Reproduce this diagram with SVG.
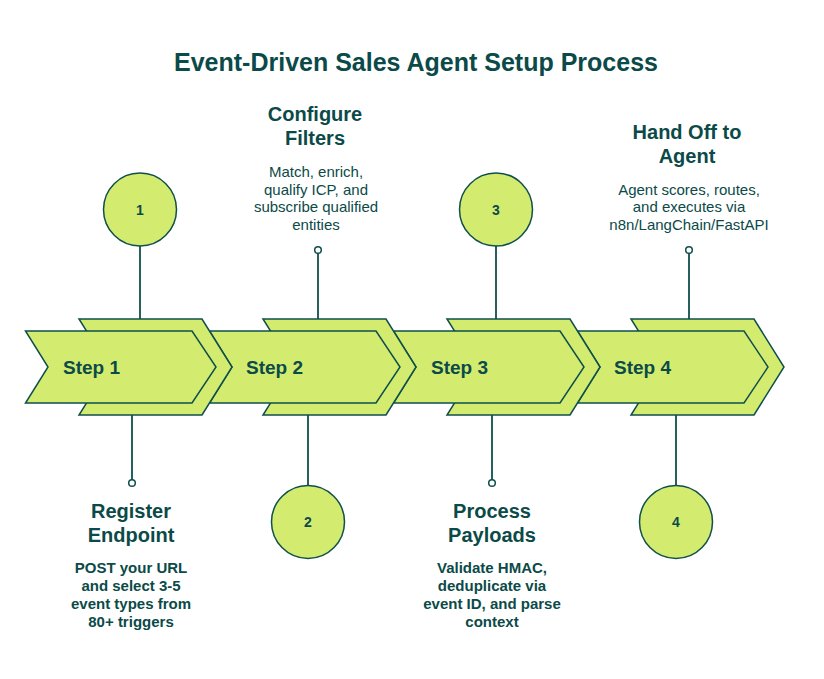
<svg xmlns="http://www.w3.org/2000/svg" width="824" height="679" viewBox="0 0 824 679">
<style>
.chev{fill:#d3ec70;stroke:#0f4f4c;stroke-width:1.5;stroke-linejoin:miter}
.num{fill:#d3ec70;stroke:#0f4f4c;stroke-width:1.5}
.ln{stroke:#0f4f4c;stroke-width:1.8;fill:none}
.dot{fill:#ffffff;stroke:#0f4f4c;stroke-width:1.5}
text{font-family:"Liberation Sans",Arial,sans-serif;fill:#0b4a48;text-anchor:middle}
.title{font-size:25px;font-weight:bold}
.step{font-size:19px;font-weight:bold;text-anchor:start}
.n{font-size:14px;font-weight:bold}
.h{font-size:20px;font-weight:bold}
.db{font-size:15px;font-weight:bold}
.d{font-size:15px}
</style>
<rect width="824" height="679" fill="#ffffff"/>
<text class="title" x="416" y="71">Event-Driven Sales Agent Setup Process</text>
<g id="connectors">
<line class="ln" x1="140" y1="246" x2="140" y2="319"/>
<line class="ln" x1="132" y1="415" x2="132" y2="480"/>
<line class="ln" x1="318" y1="253" x2="318" y2="319"/>
<line class="ln" x1="308" y1="415" x2="308" y2="485.5"/>
<line class="ln" x1="496" y1="246" x2="496" y2="319"/>
<line class="ln" x1="492" y1="415" x2="492" y2="480"/>
<line class="ln" x1="689" y1="253" x2="689" y2="319"/>
<line class="ln" x1="676" y1="415" x2="676" y2="485.5"/>
<circle class="dot" cx="132" cy="483" r="3.3"/>
<circle class="dot" cx="318" cy="250" r="3.3"/>
<circle class="dot" cx="492" cy="483" r="3.3"/>
<circle class="dot" cx="689" cy="250" r="3.3"/>
</g>
<g id="step4">
<polygon class="chev" points="631,319 754,319 784,367 754,415 631,415 661,367"/>
<polygon class="chev" points="577.5,331 744,331 768,367 744,403 577.5,403 600,367"/>
<text class="step" x="614" y="374">Step 4</text>
</g>
<g id="step3">
<polygon class="chev" points="447,319 570,319 600,367 570,415 447,415 477,367"/>
<polygon class="chev" points="393.5,331 560,331 584,367 560,403 393.5,403 416,367"/>
<text class="step" x="431" y="374">Step 3</text>
</g>
<g id="step2">
<polygon class="chev" points="263,319 386,319 416,367 386,415 263,415 293,367"/>
<polygon class="chev" points="209.5,331 376,331 400,367 376,403 209.5,403 232,367"/>
<text class="step" x="246" y="374">Step 2</text>
</g>
<g id="step1">
<polygon class="chev" points="79,319 202,319 232,367 202,415 79,415 109,367"/>
<polygon class="chev" points="25.5,331 192,331 216,367 192,403 25.5,403 48,367"/>
<text class="step" x="63" y="374">Step 1</text>
</g>
<g id="badge1">
<circle class="num" cx="140" cy="209.5" r="36.5"/>
<text class="n" x="140" y="214.5">1</text>
</g>
<g id="badge2">
<circle class="num" cx="308" cy="522" r="36.5"/>
<text class="n" x="308" y="527">2</text>
</g>
<g id="badge3">
<circle class="num" cx="496" cy="209.5" r="36.5"/>
<text class="n" x="496" y="214.5">3</text>
</g>
<g id="badge4">
<circle class="num" cx="676" cy="522" r="36.5"/>
<text class="n" x="676" y="527">4</text>
</g>
<g id="label1">
<text class="h" x="131" y="518">Register</text>
<text class="h" x="131" y="542">Endpoint</text>
<text class="db" x="131" y="573">POST your URL</text>
<text class="db" x="131" y="591">and select 3-5</text>
<text class="db" x="131" y="609">event types from</text>
<text class="db" x="131" y="627">80+ triggers</text>
</g>
<g id="label2">
<text class="h" x="315" y="121">Configure</text>
<text class="h" x="315" y="145">Filters</text>
<text class="d" x="316" y="177">Match, enrich,</text>
<text class="d" x="316" y="194.7">qualify ICP, and</text>
<text class="d" x="316" y="212.4">subscribe qualified</text>
<text class="d" x="316" y="230">entities</text>
</g>
<g id="label3">
<text class="h" x="492" y="518">Process</text>
<text class="h" x="492" y="542">Payloads</text>
<text class="db" x="492" y="573">Validate HMAC,</text>
<text class="db" x="492" y="591">deduplicate via</text>
<text class="db" x="492" y="609">event ID, and parse</text>
<text class="db" x="492" y="627">context</text>
</g>
<g id="label4">
<text class="h" x="687" y="139">Hand Off to</text>
<text class="h" x="687" y="163">Agent</text>
<text class="d" x="689" y="194.5">Agent scores, routes,</text>
<text class="d" x="689" y="212.2">and executes via</text>
<text class="d" x="689" y="230">n8n/LangChain/FastAPI</text>
</g>
</svg>
